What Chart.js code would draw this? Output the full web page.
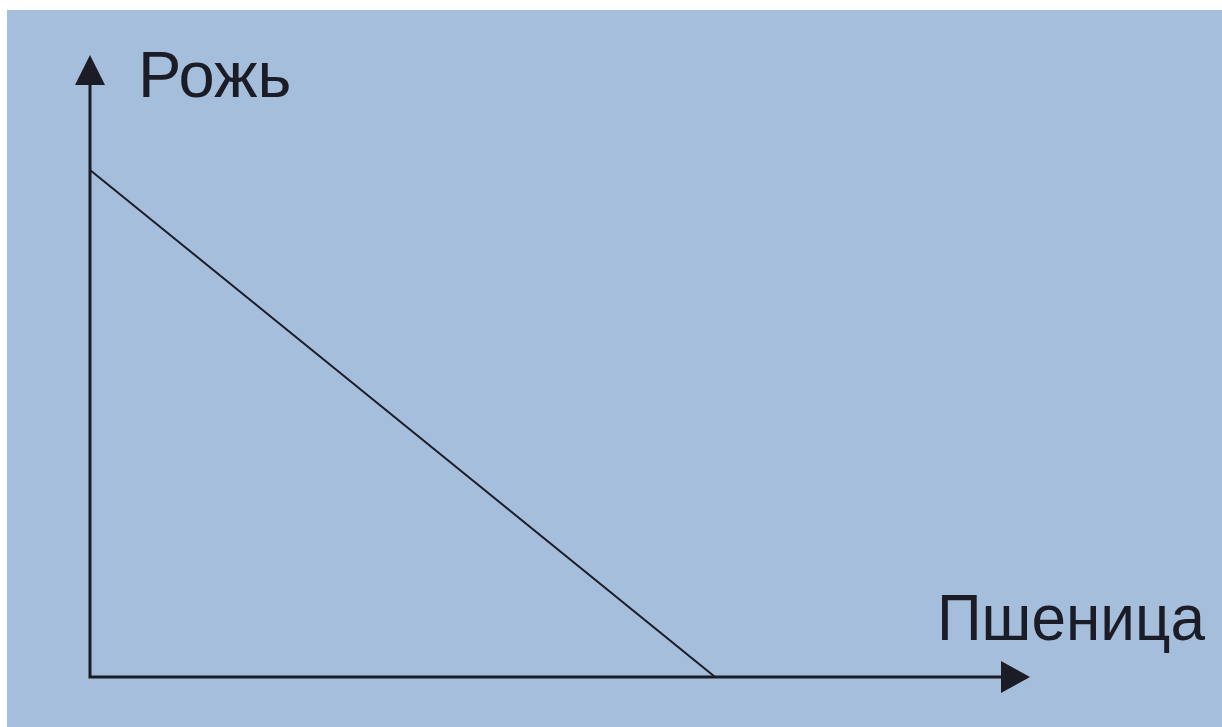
<!DOCTYPE html>
<html>
<head>
<meta charset="utf-8">
<script src="https://cdn.jsdelivr.net/npm/chart.js@4"></script>
<style>
    html, body { margin: 0; padding: 0; background: #ffffff; overflow: hidden; }
    #wrap { position: absolute; left: 7px; top: 10px; width: 1215px; height: 717px; background: #a5bedc; }
</style>
</head>
<body>
<div id="wrap"><canvas id="ppfChart" width="1215" height="717"></canvas></div>
<script>
// Кривая производственных возможностей: рожь / пшеница
const axisLabels = ['Пшеница', 'Рожь'];
const wheatValues = [0, 6.65];
const ryeValues = [8.15, 0];
const axisMax = [10, 10];

const inkColor = '#1b1c26';

const arrowAxesPlugin = {
    id: 'arrowAxes',
    afterDatasetsDraw(chart) {
        const { ctx, scales: { x, y } } = chart;
        const x0 = x.getPixelForValue(0);
        const y0 = y.getPixelForValue(0);
        const xEnd = x.getPixelForValue(axisMax[0]);
        const yEnd = y.getPixelForValue(axisMax[1]);

        ctx.save();
        ctx.strokeStyle = inkColor;
        ctx.fillStyle = inkColor;
        ctx.lineWidth = 3;
        ctx.lineCap = 'square';

        ctx.beginPath();
        ctx.moveTo(x0, yEnd + 28);
        ctx.lineTo(x0, y0);
        ctx.lineTo(xEnd - 28, y0);
        ctx.stroke();

        // стрелка оси Y
        ctx.beginPath();
        ctx.moveTo(x0, yEnd);
        ctx.lineTo(x0 - 15, yEnd + 30);
        ctx.lineTo(x0 + 15, yEnd + 30);
        ctx.closePath();
        ctx.fill();

        // стрелка оси X
        ctx.beginPath();
        ctx.moveTo(xEnd, y0);
        ctx.lineTo(xEnd - 29, y0 - 16);
        ctx.lineTo(xEnd - 29, y0 + 16);
        ctx.closePath();
        ctx.fill();

        ctx.font = '65px "Liberation Sans", Arial, sans-serif';
        ctx.textAlign = 'left';
        ctx.textBaseline = 'alphabetic';
        ctx.fillText(axisLabels[1], x0 + 48, yEnd + 42);
        ctx.fillText(axisLabels[0], xEnd - 93, y0 - 37, 268);
        ctx.restore();
    }
};
Chart.register(arrowAxesPlugin);

const ctx = document.getElementById('ppfChart').getContext('2d');
new Chart(ctx, {
    type: 'line',
    data: {
        datasets: [{
            data: wheatValues.map((w, i) => ({ x: w, y: ryeValues[i] })),
            borderColor: inkColor,
            borderWidth: 2,
            pointRadius: 0,
            fill: false,
            tension: 0
        }]
    },
    options: {
        responsive: false,
        animation: false,
        layout: { padding: { left: 83, right: 192, top: 45, bottom: 50 } },
        scales: {
            x: { type: 'linear', min: 0, max: axisMax[0], display: false },
            y: { type: 'linear', min: 0, max: axisMax[1], display: false }
        },
        plugins: { legend: { display: false }, tooltip: { enabled: false } }
    }
});
</script>
</body>
</html>
